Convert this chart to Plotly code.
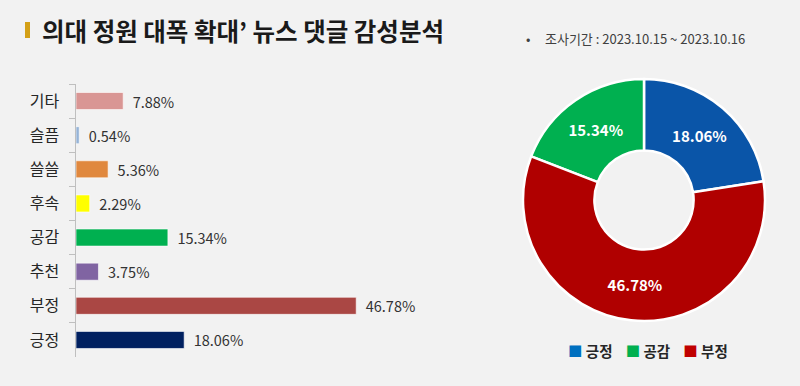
import plotly.graph_objects as go

# ---- data ----
bar_categories = ["기타", "슬픔", "쓸쓸", "후속", "공감", "추천", "부정", "긍정"]
bar_values = [7.88, 0.54, 5.36, 2.29, 15.34, 3.75, 46.78, 18.06]
bar_colors = ["#d99694", "#95b3d7", "#e0883e", "#ffff00", "#00b050", "#8064a2", "#aa4744", "#002060"]

pie_labels = ["긍정", "공감", "부정"]
pie_values = [18.06, 15.34, 46.78]
pie_colors = ["#0a55a8", "#00b050", "#b00000"]
legend_colors = ["#0070c0", "#00b050", "#c00000"]

title_text = "의대 정원 대폭 확대’ 뉴스 댓글 감성분석"
period_text = "•     조사기간 : 2023.10.15 ~ 2023.10.16"

W, H = 800, 386
FONT = "Noto Sans CJK KR"

fig = go.Figure()

fig.add_trace(go.Bar(
    x=bar_values, y=bar_categories, orientation="h",
    marker=dict(color=bar_colors, line=dict(color="rgba(255,255,255,0.6)", width=1)),
    width=0.5,
    texttemplate="\u00a0\u00a0%{x:.2f}%", textposition="outside", constraintext="none",
    textfont=dict(size=14.5, color="#333333", family=FONT),
    cliponaxis=False, showlegend=False, hoverinfo="skip",
))

fig.add_trace(go.Pie(
    labels=pie_labels, values=pie_values,
    text=[f"{v:.2f}%" for v in pie_values], textinfo="text",
    textposition="inside", insidetextorientation="horizontal",
    textfont=dict(size=15, color="white", family=FONT, weight="bold"),
    marker=dict(colors=pie_colors, line=dict(color="white", width=2.5)),
    hole=0.41, sort=False, direction="counterclockwise", rotation=0,
    domain=dict(x=[522 / W, 766 / W], y=[1 - 321 / H, 1 - 79 / H]),
    showlegend=False, hoverinfo="skip",
))

legend_html = "\u00a0\u00a0\u00a0\u00a0".join(
    f"<span style='color:{c}'>■</span> {lab}" for c, lab in zip(legend_colors, pie_labels)
)

fig.update_layout(
    width=W, height=H,
    margin=dict(l=0, r=0, t=0, b=0),
    paper_bgcolor="#f2f2f2", plot_bgcolor="#f2f2f2",
    font=dict(family=FONT, color="#262626"),
    hovermode=False,
    xaxis=dict(domain=[76 / W, (76 + 60 * 5.99) / W], range=[0, 60],
               visible=False, fixedrange=True),
    yaxis=dict(domain=[1 - 357 / H, 1 - 84 / H], autorange="reversed",
               type="category", showline=True, linecolor="#bfbfbf", linewidth=1.5,
               ticks="outside", tickson="boundaries", ticklen=6, tickcolor="#bfbfbf",
               tickfont=dict(size=16, color="#262626", family=FONT),
               ticklabelstandoff=12, showgrid=False, zeroline=False, fixedrange=True),
    showlegend=False,
    shapes=[dict(type="rect", xref="paper", yref="paper",
                 x0=25 / W, x1=30 / W, y0=1 - 38 / H, y1=1 - 22 / H,
                 fillcolor="#d4a017", line=dict(width=0))],
    annotations=[
        dict(text=title_text, xref="paper", yref="paper", x=40 / W, y=1 - 30 / H,
             xanchor="left", yanchor="middle", showarrow=False,
             font=dict(size=24.5, color="#1a1a1a", family=FONT, weight="bold")),
        dict(text=period_text, xref="paper", yref="paper", x=524 / W, y=1 - 38 / H,
             xanchor="left", yanchor="middle", showarrow=False,
             font=dict(size=13, color="#404040", family=FONT)),
        dict(text=legend_html, xref="paper", yref="paper", x=648 / W, y=1 - 350 / H,
             xanchor="center", yanchor="middle", showarrow=False,
             font=dict(size=14.5, color="#262626", family=FONT, weight="bold")),
    ],
)

fig.write_html("out.html", config={"displayModeBar": False, "staticPlot": True},
               post_script="document.body.style.margin='0';")
